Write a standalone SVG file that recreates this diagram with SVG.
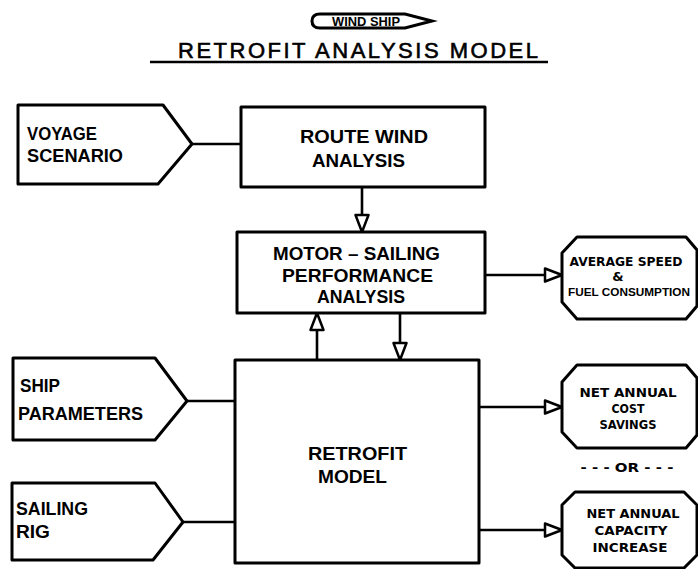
<svg xmlns="http://www.w3.org/2000/svg" width="698" height="569" viewBox="0 0 698 569">
<style>
.box{fill:#fff;stroke:#000;stroke-width:3;stroke-linejoin:round}
.conn{fill:none;stroke:#000;stroke-width:2.6}
.lbl{font-family:"Liberation Sans",Arial,sans-serif;font-weight:bold;fill:#000}
.in{font-size:19px}
.out{font-size:13px;text-anchor:middle;font-family:"DejaVu Sans","Liberation Sans",sans-serif;font-weight:bold}
</style>
<defs>
<marker id="ah" viewBox="0 0 19 15" refX="18" refY="7.5" markerWidth="19" markerHeight="15" markerUnits="userSpaceOnUse" orient="auto" overflow="visible">
<path d="M1,1 L18,7.5 L1,14 Z" fill="#fff" stroke="#000" stroke-width="2.5" stroke-linejoin="round"/>
</marker>
</defs>
<rect width="698" height="569" fill="#fff"/>
<g id="title">
<path d="M320,14 L405,14 L432,21 L405,28 L320,28 Q312,28 312,21 Q312,14 320,14 Z" fill="#fff" stroke="#000" stroke-width="3"/>
<text x="366" y="25.5" class="lbl" font-size="12" text-anchor="middle" textLength="68" lengthAdjust="spacingAndGlyphs">WIND SHIP</text>
<text x="178" y="58" font-family="'Liberation Sans',Arial,sans-serif" font-size="22" fill="#000" stroke="#000" stroke-width="0.6" textLength="360" lengthAdjust="spacing">RETROFIT ANALYSIS MODEL</text>
<line x1="150" y1="62" x2="548" y2="62" stroke="#000" stroke-width="2.5"/>
</g>
<g id="connectors">
<line class="conn" x1="192" y1="144" x2="241" y2="144"/>
<line class="conn" x1="362" y1="187" x2="362" y2="232" marker-end="url(#ah)"/>
<line class="conn" x1="485" y1="275" x2="562" y2="275" marker-end="url(#ah)"/>
<line class="conn" x1="317" y1="360" x2="317" y2="313" marker-end="url(#ah)"/>
<line class="conn" x1="400" y1="313" x2="400" y2="360" marker-end="url(#ah)"/>
<line class="conn" x1="187" y1="401" x2="235" y2="401"/>
<line class="conn" x1="183" y1="522" x2="235" y2="522"/>
<line class="conn" x1="479" y1="407" x2="562" y2="407" marker-end="url(#ah)"/>
<line class="conn" x1="479" y1="530" x2="562" y2="530" marker-end="url(#ah)"/>
</g>
<g id="voyage">
<path class="box" d="M18,105 L163,105 L192,144 L158,184 L18,184 Z"/>
<text class="lbl in" x="27" y="140" textLength="70" lengthAdjust="spacingAndGlyphs">VOYAGE</text>
<text class="lbl in" x="27" y="162" textLength="96" lengthAdjust="spacingAndGlyphs">SCENARIO</text>
</g>
<g id="route">
<rect class="box" x="241" y="107" width="244" height="80"/>
<text class="lbl" font-size="19" x="300" y="143" textLength="128" lengthAdjust="spacingAndGlyphs">ROUTE WIND</text>
<text class="lbl" font-size="19" x="312" y="167" textLength="93" lengthAdjust="spacingAndGlyphs">ANALYSIS</text>
</g>
<g id="motorsailing">
<rect class="box" x="237" y="232" width="248" height="81"/>
<text class="lbl" font-size="18" x="273" y="260" textLength="167" lengthAdjust="spacingAndGlyphs">MOTOR – SAILING</text>
<text class="lbl" font-size="18" x="282" y="282" textLength="151" lengthAdjust="spacingAndGlyphs">PERFORMANCE</text>
<text class="lbl" font-size="18" x="317" y="303" textLength="88" lengthAdjust="spacingAndGlyphs">ANALYSIS</text>
</g>
<g id="avgspeed">
<path class="box" d="M577,237 L686,237 L697,250 L697,306 L686,319 L577,319 L562,302 L562,253 Z"/>
<text class="out" x="626" y="266" textLength="113" lengthAdjust="spacingAndGlyphs">AVERAGE SPEED</text>
<text class="out" x="618" y="281" font-size="8">&amp;</text>
<text class="lbl" x="629" y="296" font-size="11.5" text-anchor="middle" textLength="122" lengthAdjust="spacingAndGlyphs">FUEL CONSUMPTION</text>
</g>
<g id="retrofit">
<rect class="box" x="235" y="360" width="244" height="203"/>
<text class="lbl" font-size="18" x="308" y="460" textLength="99" lengthAdjust="spacingAndGlyphs">RETROFIT</text>
<text class="lbl" font-size="18" x="318" y="483" textLength="69" lengthAdjust="spacingAndGlyphs">MODEL</text>
</g>
<g id="ship">
<path class="box" d="M13,358 L155,358 L187,401 L155,440 L13,440 Z"/>
<text class="lbl in" x="20" y="392" textLength="40" lengthAdjust="spacingAndGlyphs">SHIP</text>
<text class="lbl in" x="18" y="420" textLength="125" lengthAdjust="spacingAndGlyphs">PARAMETERS</text>
</g>
<g id="rig">
<path class="box" d="M12,483 L155,483 L183,522 L153,560 L12,560 Z"/>
<text class="lbl in" x="16" y="515" textLength="72" lengthAdjust="spacingAndGlyphs">SAILING</text>
<text class="lbl in" x="16" y="538" textLength="34" lengthAdjust="spacingAndGlyphs">RIG</text>
</g>
<g id="costsavings">
<path class="box" d="M577,365 L686,365 L697,378 L697,435 L686,448 L577,448 L562,432 L562,382 Z"/>
<text class="out" x="628" y="397" textLength="97" lengthAdjust="spacingAndGlyphs">NET ANNUAL</text>
<text class="out" x="628" y="413" textLength="33" lengthAdjust="spacingAndGlyphs">COST</text>
<text class="out" x="628" y="429" textLength="57" lengthAdjust="spacingAndGlyphs">SAVINGS</text>
</g>
<g id="or">
<text class="out" x="627" y="472" textLength="93" lengthAdjust="spacingAndGlyphs">- - - OR - - -</text>
</g>
<g id="capacity">
<path class="box" d="M575,492 L684,492 L697,505 L697,555 L684,568 L575,568 L562,555 L562,505 Z"/>
<text class="out" x="633" y="518" textLength="93" lengthAdjust="spacingAndGlyphs">NET ANNUAL</text>
<text class="out" x="631" y="535" textLength="73" lengthAdjust="spacingAndGlyphs">CAPACITY</text>
<text class="out" x="630" y="552" textLength="75" lengthAdjust="spacingAndGlyphs">INCREASE</text>
</g>
</svg>
